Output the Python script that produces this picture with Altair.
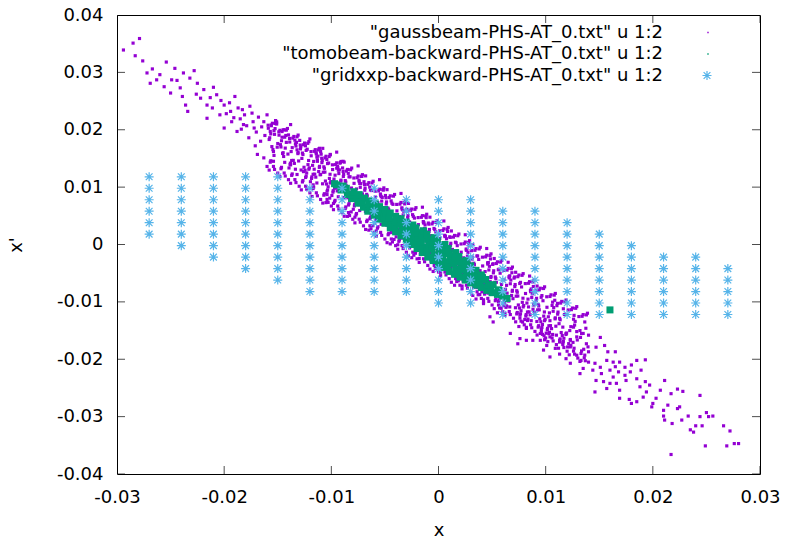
import altair as alt
import pandas as pd

# ---------------- axis ticks and legend text ----------------
x_ticks = [-0.03, -0.02, -0.01, 0.0, 0.01, 0.02, 0.03]
y_ticks = [-0.04, -0.03, -0.02, -0.01, 0.0, 0.01, 0.02, 0.03, 0.04]
series_names = [
    '"gaussbeam-PHS-AT_0.txt" u 1:2',
    '"tomobeam-backward-PHS-AT_0.txt" u 1:2',
    '"gridxxp-backward-PHS-AT_0.txt" u 1:2',
]
series_colors = ["#9400D3", "#009E73", "#56B4E9"]

# ---------------- gaussbeam cloud ----------------
gauss_upper_tail = [
    (-0.0294, 0.0339), (-0.0285, 0.0351), (-0.0279, 0.0359), (-0.0283, 0.0329), (-0.0276, 0.0320),
    (-0.0272, 0.0299), (-0.0269, 0.0281), (-0.0267, 0.0306), (-0.0263, 0.0287), (-0.0254, 0.0318),
    (-0.0246, 0.0307), (-0.0256, 0.0275), (-0.0250, 0.0264), (-0.0249, 0.0287), (-0.0238, 0.0299),
    (-0.0228, 0.0303), (-0.0234, 0.0232), (-0.0236, 0.0243), (-0.0241, 0.0273), (-0.0225, 0.0281),
    (-0.0232, 0.0290), (-0.0219, 0.0270), (-0.0210, 0.0274), (-0.0222, 0.0255), (-0.0216, 0.0243),
    (-0.0207, 0.0261), (-0.0190, 0.0258), (-0.0200, 0.0243), (-0.0204, 0.0226), (-0.0216, 0.0220),
    (-0.0194, 0.0232), (-0.0183, 0.0235), (-0.0174, 0.0229), (-0.0193, 0.0214), (-0.0182, 0.0209),
    (-0.0172, 0.0203), (-0.0163, 0.0214), (-0.0151, 0.0210), (-0.0188, 0.0197), (-0.0200, 0.0203),
    (-0.0177, 0.0186), (-0.0166, 0.0180), (-0.0157, 0.0197), (-0.0144, 0.0200), (-0.0138, 0.0209),
    (-0.0120, 0.0184), (-0.0132, 0.0165), (-0.0143, 0.0168), (-0.0154, 0.0162), (-0.0163, 0.0151),
    (-0.0169, 0.0157), (-0.0110, 0.0162), (-0.0101, 0.0157), (-0.0113, 0.0145), (-0.0138, 0.0139),
    (-0.0154, 0.0145), (-0.0126, 0.0127), (-0.0110, 0.0122), (-0.0098, 0.0110), (-0.0132, 0.0122),
    (-0.0117, 0.0104), (-0.0104, 0.0087), (-0.0095, 0.0133), (-0.0089, 0.0145),
    (-0.0198, 0.0228), (-0.0195, 0.0247), (-0.0191, 0.0221), (-0.0187, 0.0238), (-0.0185, 0.0219),
    (-0.0181, 0.0226), (-0.0179, 0.0207), (-0.0176, 0.0241), (-0.0173, 0.0214), (-0.0170, 0.0196),
    (-0.0168, 0.0222), (-0.0165, 0.0205), (-0.0162, 0.0190), (-0.0160, 0.0226), (-0.0158, 0.0183),
    (-0.0156, 0.0207), (-0.0153, 0.0192), (-0.0150, 0.0176), (-0.0148, 0.0199), (-0.0146, 0.0187),
    (-0.0145, 0.0160), (-0.0142, 0.0178), (-0.0140, 0.0191), (-0.0147, 0.0170), (-0.0152, 0.0216),
    (-0.0171, 0.0172), (-0.0184, 0.0201), (-0.0203, 0.0251), (-0.0211, 0.0238), (-0.0226, 0.0262),
    (-0.0239, 0.0258), (-0.0244, 0.0286), (-0.0260, 0.0296), (-0.0213, 0.0256),
]

gauss_core = [
    (-0.01395, 0.01334), (-0.0134, 0.01818), (-0.0137, 0.01464), (-0.0131, 0.01602), (-0.01385, 0.01392), (-0.0133, 0.01716),
    (-0.01295, 0.01814), (-0.0124, 0.01168), (-0.0127, 0.01594), (-0.0121, 0.01312), (-0.01285, 0.01702), (-0.0123, 0.01246),
    (-0.01195, 0.01094), (-0.0114, 0.01578), (-0.0117, 0.01224), (-0.0111, 0.01362), (-0.01185, 0.01152), (-0.0113, 0.01476),
    (-0.0116, 0.01312), (-0.01115, 0.01668),
    (-0.01095, 0.01574), (-0.0104, 0.00928), (-0.0107, 0.01354), (-0.0101, 0.01072), (-0.01085, 0.01462), (-0.0103, 0.01006),
    (-0.0106, 0.01262), (-0.01015, 0.00808), (-0.0108, 0.01676), (-0.0105, 0.0073),
    (-0.00995, 0.00854), (-0.0094, 0.01338), (-0.0097, 0.00984), (-0.0091, 0.01122), (-0.00985, 0.00912), (-0.0093, 0.01236),
    (-0.0096, 0.01072), (-0.00915, 0.01428), (-0.0098, 0.00716), (-0.0095, 0.0161),
    (-0.00895, 0.01334), (-0.0084, 0.00688), (-0.0087, 0.01114), (-0.0081, 0.00832), (-0.00885, 0.01222), (-0.0083, 0.00766),
    (-0.0086, 0.01022), (-0.00815, 0.00568), (-0.0088, 0.01436), (-0.0085, 0.0049),
    (-0.00795, 0.00614), (-0.0074, 0.01098), (-0.0077, 0.00744), (-0.0071, 0.00882), (-0.00785, 0.00672), (-0.0073, 0.00996),
    (-0.0076, 0.00832), (-0.00715, 0.01188), (-0.0078, 0.00476), (-0.0075, 0.0137),
    (-0.00695, 0.01094), (-0.0064, 0.00448), (-0.0067, 0.00874), (-0.0061, 0.00592), (-0.00685, 0.00982), (-0.0063, 0.00526),
    (-0.0066, 0.00782), (-0.00615, 0.00328), (-0.0068, 0.01196), (-0.0065, 0.0025),
    (-0.00595, 0.00374), (-0.0054, 0.00858), (-0.0057, 0.00504), (-0.0051, 0.00642), (-0.00585, 0.00432), (-0.0053, 0.00756),
    (-0.0056, 0.00592), (-0.00515, 0.00948), (-0.0058, 0.00236), (-0.0055, 0.0113),
    (-0.00495, 0.00854), (-0.0044, 0.00208), (-0.0047, 0.00634), (-0.0041, 0.00352), (-0.00485, 0.00742), (-0.0043, 0.00286),
    (-0.0046, 0.00542), (-0.00415, 0.00088), (-0.0048, 0.00956), (-0.0045, 0.0001),
    (-0.00395, 0.00134), (-0.0034, 0.00618), (-0.0037, 0.00264), (-0.0031, 0.00402), (-0.00385, 0.00192), (-0.0033, 0.00516),
    (-0.0036, 0.00352), (-0.00315, 0.00708), (-0.0038, -0.00004), (-0.0035, 0.0089),
    (-0.00295, 0.00614), (-0.0024, -0.00032), (-0.0027, 0.00394), (-0.0021, 0.00112), (-0.00285, 0.00502), (-0.0023, 0.00046),
    (-0.0026, 0.00302), (-0.00215, -0.00152), (-0.0028, 0.00716), (-0.0025, -0.0023),
    (-0.00195, -0.00106), (-0.0014, 0.00378), (-0.0017, 0.00024), (-0.0011, 0.00162), (-0.00185, -0.00048), (-0.0013, 0.00276),
    (-0.0016, 0.00112), (-0.00115, 0.00468), (-0.0018, -0.00244), (-0.0015, 0.0065),
    (-0.00095, 0.00374), (-0.0004, -0.00272), (-0.0007, 0.00154), (-0.0001, -0.00128), (-0.00085, 0.00262), (-0.0003, -0.00194),
    (-0.0006, 0.00062), (-0.00015, -0.00392), (-0.0008, 0.00476), (-0.0005, -0.0047),
    (0.00005, -0.00346), (0.0006, 0.00138), (0.0003, -0.00216), (0.0009, -0.00078), (0.00015, -0.00288), (0.0007, 0.00036),
    (0.0004, -0.00128), (0.00085, 0.00228), (0.0002, -0.00484), (0.0005, 0.0041),
    (0.00105, 0.00134), (0.0016, -0.00512), (0.0013, -0.00086), (0.0019, -0.00368), (0.00115, 0.00022), (0.0017, -0.00434),
    (0.0014, -0.00178), (0.00185, -0.00632), (0.0012, 0.00236), (0.0015, -0.0071),
    (0.00205, -0.00586), (0.0026, -0.00102), (0.0023, -0.00456), (0.0029, -0.00318), (0.00215, -0.00528), (0.0027, -0.00204),
    (0.0024, -0.00368), (0.00285, -0.00012), (0.0022, -0.00724), (0.0025, 0.0017),
    (0.00305, -0.00106), (0.0036, -0.00752), (0.0033, -0.00326), (0.0039, -0.00608), (0.00315, -0.00218), (0.0037, -0.00674),
    (0.0034, -0.00418), (0.00385, -0.00872), (0.0032, -0.00004), (0.0035, -0.0095),
    (0.00405, -0.00826), (0.0046, -0.00342), (0.0043, -0.00696), (0.0049, -0.00558), (0.00415, -0.00768), (0.0047, -0.00444),
    (0.0044, -0.00608), (0.00485, -0.00252), (0.0042, -0.00964), (0.0045, -0.0007),
    (0.00505, -0.00346), (0.0056, -0.00992), (0.0053, -0.00566), (0.0059, -0.00848), (0.00515, -0.00458), (0.0057, -0.00914),
    (0.0054, -0.00658), (0.00585, -0.01112), (0.0052, -0.00244), (0.0055, -0.0119),
    (0.00605, -0.01066), (0.0066, -0.00582), (0.0063, -0.00936), (0.0069, -0.00798), (0.00615, -0.01008), (0.0067, -0.00684),
    (0.0064, -0.00848), (0.00685, -0.00492), (0.0062, -0.01204), (0.0065, -0.0031),
    (0.00705, -0.00586), (0.0076, -0.01232), (0.0073, -0.00806), (0.0079, -0.01088), (0.00715, -0.00698), (0.0077, -0.01154),
    (0.0074, -0.00898), (0.00785, -0.01352), (0.0072, -0.00484), (0.0075, -0.0143),
    (0.00805, -0.01306), (0.0086, -0.00822), (0.0083, -0.01176), (0.0089, -0.01038), (0.00815, -0.01248), (0.0087, -0.00924),
    (0.0084, -0.01088), (0.00885, -0.00732), (0.0082, -0.01444), (0.0085, -0.0055),
    (0.00905, -0.00826), (0.0096, -0.01472), (0.0093, -0.01046), (0.0099, -0.01328), (0.00915, -0.00938), (0.0097, -0.01394),
    (0.0094, -0.01138), (0.00985, -0.01592), (0.0092, -0.00724), (0.0095, -0.0167),
    (0.01005, -0.01546), (0.0106, -0.01062), (0.0103, -0.01416), (0.0109, -0.01278), (0.01015, -0.01488), (0.0107, -0.01164),
    (0.0104, -0.01328), (0.01085, -0.00972),
    (0.01105, -0.01066), (0.0116, -0.01712), (0.0113, -0.01286), (0.0119, -0.01568), (0.01115, -0.01178), (0.0117, -0.01634),
    (0.01205, -0.01786), (0.0126, -0.01302), (0.0123, -0.01656), (0.0129, -0.01518), (0.01215, -0.01728), (0.0127, -0.01404),
]

gauss_dense_band = [
    (-0.01575, 0.0186), (-0.01545, 0.01654), (-0.01525, 0.0202), (-0.01505, 0.01696), (-0.01565, 0.01928), (-0.01535, 0.01552),
    (-0.01588, 0.02026), (-0.01555, 0.01706),
    (-0.01475, 0.0174), (-0.01445, 0.01534), (-0.01425, 0.019), (-0.01405, 0.01576), (-0.01465, 0.01808), (-0.01435, 0.01432),
    (-0.01488, 0.01906), (-0.01455, 0.01586),
    (-0.01375, 0.0162), (-0.01345, 0.01414), (-0.01325, 0.0178), (-0.01305, 0.01456), (-0.01365, 0.01688), (-0.01335, 0.01312),
    (-0.01388, 0.01786), (-0.01355, 0.01466), (-0.01312, 0.01584), (-0.01382, 0.01418),
    (-0.01275, 0.015), (-0.01245, 0.01294), (-0.01225, 0.0166), (-0.01205, 0.01336), (-0.01265, 0.01568), (-0.01235, 0.01192),
    (-0.01288, 0.01666), (-0.01255, 0.01346), (-0.01212, 0.01464), (-0.01282, 0.01298), (-0.01242, 0.0172), (-0.01218, 0.01392),
    (-0.01175, 0.0138), (-0.01145, 0.01174), (-0.01125, 0.0154), (-0.01105, 0.01216), (-0.01165, 0.01448), (-0.01135, 0.01072),
    (-0.01188, 0.01546), (-0.01155, 0.01226), (-0.01112, 0.01344), (-0.01182, 0.01178), (-0.01142, 0.016), (-0.01118, 0.01272),
    (-0.01075, 0.0126), (-0.01045, 0.01054), (-0.01025, 0.0142), (-0.01005, 0.01096), (-0.01065, 0.01328), (-0.01035, 0.00952),
    (-0.01088, 0.01426), (-0.01055, 0.01106), (-0.01012, 0.01224), (-0.01082, 0.01058), (-0.01042, 0.0148), (-0.01018, 0.01152),
    (-0.00975, 0.0114), (-0.00945, 0.00934), (-0.00925, 0.013), (-0.00905, 0.00976), (-0.00965, 0.01208), (-0.00935, 0.00832),
    (-0.00988, 0.01306), (-0.00955, 0.00986), (-0.00912, 0.01104), (-0.00982, 0.00938), (-0.00942, 0.0136), (-0.00918, 0.01032),
    (-0.00875, 0.0102), (-0.00845, 0.00814), (-0.00825, 0.0118), (-0.00805, 0.00856), (-0.00865, 0.01088), (-0.00835, 0.00712),
    (-0.00888, 0.01186), (-0.00855, 0.00866), (-0.00812, 0.00984), (-0.00882, 0.00818), (-0.00842, 0.0124), (-0.00818, 0.00912),
    (-0.00775, 0.009), (-0.00745, 0.00694), (-0.00725, 0.0106), (-0.00705, 0.00736), (-0.00765, 0.00968), (-0.00735, 0.00592),
    (-0.00788, 0.01066), (-0.00755, 0.00746), (-0.00712, 0.00864), (-0.00782, 0.00698), (-0.00742, 0.0112), (-0.00718, 0.00792),
    (-0.00675, 0.0078), (-0.00645, 0.00574), (-0.00625, 0.0094), (-0.00605, 0.00616), (-0.00665, 0.00848), (-0.00635, 0.00472),
    (-0.00688, 0.00946), (-0.00655, 0.00626), (-0.00612, 0.00744), (-0.00682, 0.00578), (-0.00642, 0.01), (-0.00618, 0.00672),
    (-0.00575, 0.0066), (-0.00545, 0.00454), (-0.00525, 0.0082), (-0.00505, 0.00496), (-0.00565, 0.00728), (-0.00535, 0.00352),
    (-0.00588, 0.00826), (-0.00555, 0.00506), (-0.00512, 0.00624), (-0.00582, 0.00458), (-0.00542, 0.0088), (-0.00518, 0.00552),
    (-0.00475, 0.0054), (-0.00445, 0.00334), (-0.00425, 0.007), (-0.00405, 0.00376), (-0.00465, 0.00608), (-0.00435, 0.00232),
    (-0.00488, 0.00706), (-0.00455, 0.00386), (-0.00412, 0.00504), (-0.00482, 0.00338), (-0.00442, 0.0076), (-0.00418, 0.00432),
    (-0.00375, 0.0042), (-0.00345, 0.00214), (-0.00325, 0.0058), (-0.00305, 0.00256), (-0.00365, 0.00488), (-0.00335, 0.00112),
    (-0.00388, 0.00586), (-0.00355, 0.00266), (-0.00312, 0.00384), (-0.00382, 0.00218), (-0.00342, 0.0064), (-0.00318, 0.00312),
    (-0.00275, 0.003), (-0.00245, 0.00094), (-0.00225, 0.0046), (-0.00205, 0.00136), (-0.00265, 0.00368), (-0.00235, -0.00008),
    (-0.00288, 0.00466), (-0.00255, 0.00146), (-0.00212, 0.00264), (-0.00282, 0.00098), (-0.00242, 0.0052), (-0.00218, 0.00192),
    (-0.00175, 0.0018), (-0.00145, -0.00026), (-0.00125, 0.0034), (-0.00105, 0.00016), (-0.00165, 0.00248), (-0.00135, -0.00128),
    (-0.00188, 0.00346), (-0.00155, 0.00026), (-0.00112, 0.00144), (-0.00182, -0.00022), (-0.00142, 0.004), (-0.00118, 0.00072),
    (-0.00075, 0.0006), (-0.00045, -0.00146), (-0.00025, 0.0022), (-0.00005, -0.00104), (-0.00065, 0.00128), (-0.00035, -0.00248),
    (-0.00088, 0.00226), (-0.00055, -0.00094), (-0.00012, 0.00024), (-0.00082, -0.00142), (-0.00042, 0.0028), (-0.00018, -0.00048),
    (0.00025, -0.0006), (0.00055, -0.00266), (0.00075, 0.001), (0.00095, -0.00224), (0.00035, 0.00008), (0.00065, -0.00368),
    (0.00012, 0.00106), (0.00045, -0.00214), (0.00088, -0.00096), (0.00018, -0.00262), (0.00058, 0.0016), (0.00082, -0.00168),
    (0.00125, -0.0018), (0.00155, -0.00386), (0.00175, -0.0002), (0.00195, -0.00344), (0.00135, -0.00112), (0.00165, -0.00488),
    (0.00112, -0.00014), (0.00145, -0.00334), (0.00188, -0.00216), (0.00118, -0.00382), (0.00158, 0.0004), (0.00182, -0.00288),
    (0.00225, -0.003), (0.00255, -0.00506), (0.00275, -0.0014), (0.00295, -0.00464), (0.00235, -0.00232), (0.00265, -0.00608),
    (0.00212, -0.00134), (0.00245, -0.00454), (0.00288, -0.00336), (0.00218, -0.00502), (0.00258, -0.0008), (0.00282, -0.00408),
    (0.00325, -0.0042), (0.00355, -0.00626), (0.00375, -0.0026), (0.00395, -0.00584), (0.00335, -0.00352), (0.00365, -0.00728),
    (0.00312, -0.00254), (0.00345, -0.00574), (0.00388, -0.00456), (0.00318, -0.00622), (0.00358, -0.002), (0.00382, -0.00528),
    (0.00425, -0.0054), (0.00455, -0.00746), (0.00475, -0.0038), (0.00495, -0.00704), (0.00435, -0.00472), (0.00465, -0.00848),
    (0.00412, -0.00374), (0.00445, -0.00694), (0.00488, -0.00576), (0.00418, -0.00742), (0.00458, -0.0032), (0.00482, -0.00648),
    (0.00525, -0.0066), (0.00555, -0.00866), (0.00575, -0.005), (0.00595, -0.00824), (0.00535, -0.00592), (0.00565, -0.00968),
    (0.00512, -0.00494), (0.00545, -0.00814), (0.00588, -0.00696), (0.00518, -0.00862), (0.00558, -0.0044), (0.00582, -0.00768),
    (0.00625, -0.0078), (0.00655, -0.00986), (0.00675, -0.0062), (0.00695, -0.00944), (0.00635, -0.00712), (0.00665, -0.01088),
    (0.00612, -0.00614), (0.00645, -0.00934), (0.00688, -0.00816), (0.00618, -0.00982), (0.00658, -0.0056), (0.00682, -0.00888),
    (0.00725, -0.009), (0.00755, -0.01106), (0.00775, -0.0074), (0.00795, -0.01064), (0.00735, -0.00832), (0.00765, -0.01208),
    (0.00712, -0.00734), (0.00745, -0.01054), (0.00788, -0.00936), (0.00718, -0.01102), (0.00758, -0.0068), (0.00782, -0.01008),
    (0.00825, -0.0102), (0.00855, -0.01226), (0.00875, -0.0086), (0.00895, -0.01184), (0.00835, -0.00952), (0.00865, -0.01328),
    (0.00812, -0.00854), (0.00845, -0.01174), (0.00888, -0.01056), (0.00818, -0.01222), (0.00858, -0.008), (0.00882, -0.01128),
    (0.00925, -0.0114), (0.00955, -0.01346), (0.00975, -0.0098), (0.00995, -0.01304), (0.00935, -0.01072), (0.00965, -0.01448),
    (0.00912, -0.00974), (0.00945, -0.01294), (0.00988, -0.01176), (0.00918, -0.01342), (0.00958, -0.0092), (0.00982, -0.01248),
    (0.01025, -0.0126), (0.01055, -0.01466), (0.01075, -0.011), (0.01095, -0.01424), (0.01035, -0.01192), (0.01065, -0.01568),
    (0.01012, -0.01094), (0.01045, -0.01414), (0.01088, -0.01296), (0.01018, -0.01462),
    (0.01125, -0.0138), (0.01155, -0.01586), (0.01175, -0.0122), (0.01195, -0.01544), (0.01135, -0.01312), (0.01165, -0.01688),
    (0.01112, -0.01214), (0.01145, -0.01534),
    (0.01225, -0.015), (0.01255, -0.01706), (0.01275, -0.0134), (0.01295, -0.01664), (0.01235, -0.01432), (0.01265, -0.01808),
    (0.01325, -0.0162), (0.01355, -0.01826), (0.01375, -0.0146), (0.01395, -0.01784), (0.01335, -0.01552), (0.01365, -0.01928),
]

gauss_halo = [
    (-0.0159, 0.02079), (-0.0157, 0.01435), (-0.0155, 0.02113), (-0.0153, 0.01309), (-0.0151, 0.02137), (-0.0158, 0.01297),
    (-0.0156, 0.02084), (-0.0154, 0.01361), (-0.0152, 0.02108), (-0.016, 0.0136), (-0.01535, 0.01985), (-0.01565, 0.0146),
    (-0.0149, 0.01964), (-0.0147, 0.0132), (-0.0145, 0.01998), (-0.0143, 0.01194), (-0.0141, 0.02022), (-0.0148, 0.01182),
    (-0.0146, 0.01969), (-0.0144, 0.01246), (-0.0142, 0.01993), (-0.015, 0.01245), (-0.01435, 0.0187), (-0.01465, 0.01345),
    (-0.0139, 0.01849), (-0.0137, 0.01205), (-0.0135, 0.01883), (-0.0133, 0.01079), (-0.0131, 0.01907), (-0.0138, 0.01067),
    (-0.0136, 0.01854), (-0.0134, 0.01131), (-0.0132, 0.01878), (-0.014, 0.0113), (-0.01335, 0.01755), (-0.01365, 0.0123),
    (-0.0129, 0.01734), (-0.0127, 0.0109), (-0.0125, 0.01768), (-0.0123, 0.00964), (-0.0121, 0.01792), (-0.0128, 0.00952),
    (-0.0126, 0.01739), (-0.0124, 0.01016), (-0.0122, 0.01763), (-0.013, 0.01015), (-0.01235, 0.0164), (-0.01265, 0.01115),
    (-0.0119, 0.01619), (-0.0117, 0.00975), (-0.0115, 0.01653), (-0.0113, 0.00849), (-0.0111, 0.01677), (-0.0118, 0.00837),
    (-0.0116, 0.01624), (-0.0114, 0.00901), (-0.0112, 0.01648), (-0.012, 0.009), (-0.01135, 0.01525), (-0.01165, 0.01),
    (-0.0109, 0.01504), (-0.0107, 0.0086), (-0.0105, 0.01538), (-0.0103, 0.00734), (-0.0101, 0.01562), (-0.0108, 0.00722),
    (-0.0106, 0.01509), (-0.0104, 0.00786), (-0.0102, 0.01533), (-0.011, 0.00785), (-0.01035, 0.0141), (-0.01065, 0.00885),
    (-0.0099, 0.01389), (-0.0097, 0.00745), (-0.0095, 0.01423), (-0.0093, 0.00619), (-0.0091, 0.01447), (-0.0098, 0.00607),
    (-0.0096, 0.01394), (-0.0094, 0.00671), (-0.0092, 0.01418), (-0.01, 0.0067), (-0.00935, 0.01295), (-0.00965, 0.0077),
    (-0.0089, 0.01274), (-0.0087, 0.0063), (-0.0085, 0.01308), (-0.0083, 0.00504), (-0.0081, 0.01332), (-0.0088, 0.00492),
    (-0.0086, 0.01279), (-0.0084, 0.00556), (-0.0082, 0.01303), (-0.009, 0.00555), (-0.00835, 0.0118), (-0.00865, 0.00655),
    (-0.0079, 0.01159), (-0.0077, 0.00515), (-0.0075, 0.01193), (-0.0073, 0.00389), (-0.0071, 0.01217), (-0.0078, 0.00377),
    (-0.0076, 0.01164), (-0.0074, 0.00441), (-0.0072, 0.01188), (-0.008, 0.0044), (-0.00735, 0.01065), (-0.00765, 0.0054),
    (-0.0069, 0.01044), (-0.0067, 0.004), (-0.0065, 0.01078), (-0.0063, 0.00274), (-0.0061, 0.01102), (-0.0068, 0.00262),
    (-0.0066, 0.01049), (-0.0064, 0.00326), (-0.0062, 0.01073), (-0.007, 0.00325), (-0.00635, 0.0095), (-0.00665, 0.00425),
    (-0.0059, 0.00929), (-0.0057, 0.00285), (-0.0055, 0.00963), (-0.0053, 0.00159), (-0.0051, 0.00987), (-0.0058, 0.00147),
    (-0.0056, 0.00934), (-0.0054, 0.00211), (-0.0052, 0.00958), (-0.006, 0.0021), (-0.00535, 0.00835), (-0.00565, 0.0031),
    (-0.0049, 0.00814), (-0.0047, 0.0017), (-0.0045, 0.00848), (-0.0043, 0.00044), (-0.0041, 0.00872), (-0.0048, 0.00032),
    (-0.0046, 0.00819), (-0.0044, 0.00096), (-0.0042, 0.00843), (-0.005, 0.00095), (-0.00435, 0.0072), (-0.00465, 0.00195),
    (-0.0039, 0.00699), (-0.0037, 0.00055), (-0.0035, 0.00733), (-0.0033, -0.00071), (-0.0031, 0.00757), (-0.0038, -0.00083),
    (-0.0036, 0.00704), (-0.0034, -0.00019), (-0.0032, 0.00728), (-0.004, -0.0002), (-0.00335, 0.00605), (-0.00365, 0.0008),
    (-0.0029, 0.00584), (-0.0027, -0.0006), (-0.0025, 0.00618), (-0.0023, -0.00186), (-0.0021, 0.00642), (-0.0028, -0.00198),
    (-0.0026, 0.00589), (-0.0024, -0.00134), (-0.0022, 0.00613), (-0.003, -0.00135), (-0.00235, 0.0049), (-0.00265, -0.00035),
    (-0.0019, 0.00469), (-0.0017, -0.00175), (-0.0015, 0.00503), (-0.0013, -0.00301), (-0.0011, 0.00527), (-0.0018, -0.00313),
    (-0.0016, 0.00474), (-0.0014, -0.00249), (-0.0012, 0.00498), (-0.002, -0.0025), (-0.00135, 0.00375), (-0.00165, -0.0015),
    (-0.0009, 0.00354), (-0.0007, -0.0029), (-0.0005, 0.00388), (-0.0003, -0.00416), (-0.0001, 0.00412), (-0.0008, -0.00428),
    (-0.0006, 0.00359), (-0.0004, -0.00364), (-0.0002, 0.00383), (-0.001, -0.00365), (-0.00035, 0.0026), (-0.00065, -0.00265),
    (0.0001, 0.00239), (0.0003, -0.00405), (0.0005, 0.00273), (0.0007, -0.00531), (0.0009, 0.00297), (0.0002, -0.00543),
    (0.0004, 0.00244), (0.0006, -0.00479), (0.0008, 0.00268), (0.0, -0.0048), (0.00065, 0.00145), (0.00035, -0.0038),
    (0.0011, 0.00124), (0.0013, -0.0052), (0.0015, 0.00158), (0.0017, -0.00646), (0.0019, 0.00182), (0.0012, -0.00658),
    (0.0014, 0.00129), (0.0016, -0.00594), (0.0018, 0.00153), (0.001, -0.00595), (0.00165, 0.0003), (0.00135, -0.00495),
    (0.0021, 0.00009), (0.0023, -0.00635), (0.0025, 0.00043), (0.0027, -0.00761), (0.0029, 0.00067), (0.0022, -0.00773),
    (0.0024, 0.00014), (0.0026, -0.00709), (0.0028, 0.00038), (0.002, -0.0071), (0.00265, -0.00085), (0.00235, -0.0061),
    (0.0031, -0.00106), (0.0033, -0.0075), (0.0035, -0.00072), (0.0037, -0.00876), (0.0039, -0.00048), (0.0032, -0.00888),
    (0.0034, -0.00101), (0.0036, -0.00824), (0.0038, -0.00077), (0.003, -0.00825), (0.00365, -0.002), (0.00335, -0.00725),
    (0.0041, -0.00221), (0.0043, -0.00865), (0.0045, -0.00187), (0.0047, -0.00991), (0.0049, -0.00163), (0.0042, -0.01003),
    (0.0044, -0.00216), (0.0046, -0.00939), (0.0048, -0.00192), (0.004, -0.0094), (0.00465, -0.00315), (0.00435, -0.0084),
    (0.0051, -0.00336), (0.0053, -0.0098), (0.0055, -0.00302), (0.0057, -0.01106), (0.0059, -0.00278), (0.0052, -0.01118),
    (0.0054, -0.00331), (0.0056, -0.01054), (0.0058, -0.00307), (0.005, -0.01055), (0.00565, -0.0043), (0.00535, -0.00955),
    (0.0061, -0.00451), (0.0063, -0.01095), (0.0065, -0.00417), (0.0067, -0.01221), (0.0069, -0.00393), (0.0062, -0.01233),
    (0.0064, -0.00446), (0.0066, -0.01169), (0.0068, -0.00422), (0.006, -0.0117), (0.00665, -0.00545), (0.00635, -0.0107),
    (0.0071, -0.00566), (0.0073, -0.0121), (0.0075, -0.00532), (0.0077, -0.01336), (0.0079, -0.00508), (0.0072, -0.01348),
    (0.0074, -0.00561), (0.0076, -0.01284), (0.0078, -0.00537), (0.007, -0.01285), (0.00765, -0.0066), (0.00735, -0.01185),
    (0.0081, -0.00681), (0.0083, -0.01325), (0.0085, -0.00647), (0.0087, -0.01451), (0.0089, -0.00623), (0.0082, -0.01463),
    (0.0084, -0.00676), (0.0086, -0.01399), (0.0088, -0.00652), (0.008, -0.014), (0.00865, -0.00775), (0.00835, -0.013),
    (0.0091, -0.00796), (0.0093, -0.0144), (0.0095, -0.00762), (0.0097, -0.01566), (0.0099, -0.00738), (0.0092, -0.01578),
    (0.0094, -0.00791), (0.0096, -0.01514), (0.0098, -0.00767), (0.009, -0.01515), (0.00965, -0.0089), (0.00935, -0.01415),
    (0.0101, -0.00911), (0.0103, -0.01555), (0.0105, -0.00877), (0.0107, -0.01681), (0.0109, -0.00853), (0.0102, -0.01693),
    (0.0104, -0.00906), (0.0106, -0.01629), (0.0108, -0.00882), (0.01, -0.0163), (0.01065, -0.01005), (0.01035, -0.0153),
    (0.0111, -0.01026), (0.0113, -0.0167), (0.0115, -0.00992), (0.0117, -0.01796), (0.0119, -0.00968), (0.0112, -0.01808),
    (0.0114, -0.01021), (0.0116, -0.01744), (0.0118, -0.00997), (0.011, -0.01745), (0.01165, -0.0112), (0.01135, -0.01645),
    (0.0121, -0.01141), (0.0123, -0.01785), (0.0125, -0.01107), (0.0127, -0.01911), (0.0129, -0.01083), (0.0122, -0.01923),
    (0.0124, -0.01136), (0.0126, -0.01859), (0.0128, -0.01112), (0.012, -0.0186), (0.01265, -0.01235), (0.01235, -0.0176),
    (0.0131, -0.01256), (0.0133, -0.019), (0.0135, -0.01222), (0.0137, -0.02026), (0.0139, -0.01198), (0.0132, -0.02038),
    (0.0134, -0.01251), (0.0136, -0.01974), (0.0138, -0.01227), (0.013, -0.0198), (0.01365, -0.0135), (0.01335, -0.01855),
]

gauss_lower_tail = [
    (0.0217, -0.0366), (0.0249, -0.0351), (0.0269, -0.0351), (0.0276, -0.0347), (0.0280, -0.0347),
    (0.0272, -0.0325), (0.0266, -0.0316), (0.0256, -0.0299), (0.0252, -0.0300), (0.0250, -0.0293),
    (0.0246, -0.0316), (0.0244, -0.0300), (0.0240, -0.0316), (0.0238, -0.0327), (0.0235, -0.0323),
    (0.0233, -0.0299), (0.0227, -0.0306), (0.0218, -0.0312), (0.0211, -0.0306), (0.0210, -0.0299),
    (0.0225, -0.0283), (0.0223, -0.0286), (0.0244, -0.0263), (0.0228, -0.0256), (0.0223, -0.0252),
    (0.0217, -0.0260), (0.0214, -0.0280), (0.0211, -0.0237), (0.0207, -0.0254), (0.0203, -0.0268),
    (0.0200, -0.0277), (0.0210, -0.0289), (0.0197, -0.0245), (0.0194, -0.0257), (0.0191, -0.0266),
    (0.0199, -0.0283), (0.0185, -0.0274), (0.0180, -0.0277), (0.0178, -0.0270), (0.0188, -0.0248),
    (0.0193, -0.0239), (0.0185, -0.0234), (0.0189, -0.0219), (0.0193, -0.0201), (0.0185, -0.0202),
    (0.0179, -0.0222), (0.0175, -0.0237), (0.0169, -0.0254), (0.0169, -0.0268), (0.0166, -0.0242),
    (0.0174, -0.0228), (0.0180, -0.0210), (0.0174, -0.0214), (0.0168, -0.0222), (0.0163, -0.0231),
    (0.0160, -0.0242), (0.0157, -0.0251), (0.0154, -0.0239), (0.0147, -0.0237), (0.0152, -0.0225),
    (0.0146, -0.0257), (0.0160, -0.0219), (0.0165, -0.0213), (0.0169, -0.0205), (0.0163, -0.0205),
    (0.0157, -0.0202), (0.0151, -0.0214), (0.0144, -0.0219), (0.0146, -0.0207), (0.0140, -0.0205),
    (0.0135, -0.0216), (0.0132, -0.0225), (0.0158, -0.0187), (0.0165, -0.0187), (0.0155, -0.0176),
    (0.0151, -0.0162), (0.0147, -0.0179), (0.0140, -0.0187), (0.0138, -0.0173), (0.0133, -0.0202),
    (0.0129, -0.0193), (0.0123, -0.0207), (0.0119, -0.0199), (0.0113, -0.0191), (0.0109, -0.0181),
    (0.0104, -0.0196), (0.0098, -0.0184), (0.0101, -0.0176), (0.0099, -0.0166), (0.0113, -0.0170),
    (0.0123, -0.0167), (0.0129, -0.0161), (0.0135, -0.0155), (0.0140, -0.0158), (0.0132, -0.0150),
    (0.0126, -0.0144), (0.0119, -0.0155), (0.0116, -0.0144), (0.0110, -0.0158), (0.0104, -0.0161),
    (0.0095, -0.0155), (0.0088, -0.0167), (0.0082, -0.0167), (0.0076, -0.0164), (0.0074, -0.0173),
    (0.0067, -0.0155), (0.0051, -0.0135), (0.0048, -0.0126), (0.0042, -0.0103),
]

# ---------------- tomobeam cloud ----------------
tomo_points = [
    (-0.0095, 0.0104), (-0.0091, 0.0095), (-0.0089, 0.0102), (-0.0085, 0.0087), (-0.0086, 0.0098),
    (-0.0081, 0.0080), (-0.0080, 0.0086), (-0.0079, 0.0092), (-0.0075, 0.0072), (-0.0076, 0.0080),
    (-0.0074, 0.0087), (-0.0070, 0.0065), (-0.0071, 0.0074), (-0.0069, 0.0081), (-0.0066, 0.0058),
    (-0.0064, 0.0067), (-0.0065, 0.0076), (-0.0060, 0.0051), (-0.0061, 0.0061), (-0.0059, 0.0071),
    (-0.0055, 0.0044), (-0.0054, 0.0053), (-0.0056, 0.0061), (-0.0055, 0.0066),
    (-0.0050, 0.0037), (-0.0051, 0.0046), (-0.0049, 0.0054), (-0.0050, 0.0061),
    (-0.0045, 0.0029), (-0.0044, 0.0038), (-0.0046, 0.0046), (-0.0045, 0.0055),
    (-0.0040, 0.0022), (-0.0041, 0.0031), (-0.0039, 0.0040), (-0.0040, 0.0049),
    (-0.0035, 0.0015), (-0.0034, 0.0025), (-0.0036, 0.0035), (-0.0035, 0.0045),
    (-0.0030, 0.0008), (-0.0031, 0.0018), (-0.0029, 0.0028), (-0.0030, 0.0039),
    (-0.0025, 0.0000), (-0.0024, 0.0009), (-0.0026, 0.0018), (-0.0025, 0.0027), (-0.0024, 0.0034),
    (-0.0020, -0.0007), (-0.0021, 0.0002), (-0.0019, 0.0011), (-0.0020, 0.0020), (-0.0021, 0.0029),
    (-0.0015, -0.0014), (-0.0014, -0.0005), (-0.0016, 0.0005), (-0.0015, 0.0015), (-0.0014, 0.0024),
    (-0.0010, -0.0022), (-0.0011, -0.0012), (-0.0009, -0.0002), (-0.0010, 0.0009), (-0.0011, 0.0018),
    (-0.0005, -0.0028), (-0.0004, -0.0018), (-0.0006, -0.0008), (-0.0005, 0.0002), (-0.0004, 0.0012),
    (0.0000, -0.0034), (-0.0001, -0.0024), (0.0001, -0.0014), (0.0000, -0.0004), (-0.0001, 0.0006),
    (0.0005, -0.0040), (0.0006, -0.0030), (0.0004, -0.0020), (0.0005, -0.0010), (0.0006, 0.0000),
    (0.0010, -0.0047), (0.0009, -0.0037), (0.0011, -0.0027), (0.0010, -0.0016), (0.0009, -0.0007),
    (0.0015, -0.0052), (0.0016, -0.0043), (0.0014, -0.0033), (0.0015, -0.0023), (0.0016, -0.0014),
    (0.0020, -0.0057), (0.0019, -0.0048), (0.0021, -0.0039), (0.0020, -0.0030), (0.0019, -0.0021),
    (0.0025, -0.0062), (0.0026, -0.0053), (0.0024, -0.0044), (0.0025, -0.0035), (0.0026, -0.0028),
    (0.0030, -0.0067), (0.0029, -0.0057), (0.0031, -0.0047), (0.0030, -0.0037),
    (0.0035, -0.0071), (0.0036, -0.0062), (0.0034, -0.0054), (0.0035, -0.0045),
    (0.0040, -0.0075), (0.0039, -0.0066), (0.0041, -0.0058), (0.0040, -0.0053),
    (0.0045, -0.0080), (0.0046, -0.0070), (0.0044, -0.0061),
    (0.0050, -0.0084), (0.0049, -0.0077), (0.0051, -0.0070),
    (0.0055, -0.0087), (0.0056, -0.0079), (0.0060, -0.0090),
    (0.0064, -0.0094), (-0.0097, 0.0106), (0.0160, -0.0114),
]

# ---------------- gridxxp points (one list of x' values per x column) ----------------
grid_columns_x = [-0.027, -0.024, -0.021, -0.018, -0.015, -0.012, -0.009, -0.006, -0.003, 0.0,
                  0.003, 0.006, 0.009, 0.012, 0.015, 0.018, 0.021, 0.024, 0.027]
grid_columns_y = [
    [0.0118, 0.0098, 0.0078, 0.0058, 0.0038, 0.0018],
    [0.0118, 0.0098, 0.0078, 0.0058, 0.0038, 0.0018, -0.0002],
    [0.0118, 0.0098, 0.0078, 0.0058, 0.0038, 0.0018, -0.0002, -0.0022],
    [0.0118, 0.0098, 0.0078, 0.0058, 0.0038, 0.0018, -0.0002, -0.0022, -0.0042],
    [0.0118, 0.0098, 0.0078, 0.0058, 0.0038, 0.0018, -0.0002, -0.0022, -0.0042, -0.0062],
    [0.0098, 0.0078, 0.0058, 0.0038, 0.0018, -0.0002, -0.0022, -0.0042, -0.0062, -0.0082],
    [0.0098, 0.0078, 0.0058, 0.0038, 0.0018, -0.0002, -0.0022, -0.0042, -0.0062, -0.0082],
    [0.0098, 0.0078, 0.0058, 0.0038, 0.0018, -0.0002, -0.0022, -0.0042, -0.0062, -0.0082],
    [0.0078, 0.0058, 0.0038, 0.0018, -0.0002, -0.0022, -0.0042, -0.0062, -0.0082],
    [0.0078, 0.0058, 0.0038, 0.0018, -0.0002, -0.0022, -0.0042, -0.0062, -0.0082, -0.0102],
    [0.0078, 0.0058, 0.0038, 0.0018, -0.0002, -0.0022, -0.0042, -0.0062, -0.0082, -0.0102],
    [0.0058, 0.0038, 0.0018, -0.0002, -0.0022, -0.0042, -0.0062, -0.0082, -0.0102, -0.0122],
    [0.0058, 0.0038, 0.0018, -0.0002, -0.0022, -0.0042, -0.0062, -0.0082, -0.0102, -0.0122],
    [0.0038, 0.0018, -0.0002, -0.0022, -0.0042, -0.0062, -0.0082, -0.0102, -0.0122],
    [0.0018, -0.0002, -0.0022, -0.0042, -0.0062, -0.0082, -0.0102, -0.0122],
    [-0.0002, -0.0022, -0.0042, -0.0062, -0.0082, -0.0102, -0.0122],
    [-0.0022, -0.0042, -0.0062, -0.0082, -0.0102, -0.0122],
    [-0.0022, -0.0042, -0.0062, -0.0082, -0.0102, -0.0122],
    [-0.0042, -0.0062, -0.0082, -0.0102, -0.0122],
]

# ---------------- tables ----------------
gauss_df = pd.DataFrame(gauss_upper_tail + gauss_core + gauss_dense_band + gauss_halo + gauss_lower_tail,
                        columns=["x", "y"])
tomo_df = pd.DataFrame(tomo_points, columns=["x", "y"])
grid_df = pd.DataFrame(
    [(gx, gy) for gx, col in zip(grid_columns_x, grid_columns_y) for gy in col], columns=["x", "y"]
)
x_lo, x_hi = x_ticks[0], x_ticks[-1]
y_lo, y_hi = y_ticks[0], y_ticks[-1]
bottom_ticks = pd.DataFrame({"x": x_ticks, "y": [y_lo] * len(x_ticks)})
top_ticks = pd.DataFrame({"x": x_ticks, "y": [y_hi] * len(x_ticks)})
left_ticks = pd.DataFrame({"x": [x_lo] * len(y_ticks), "y": y_ticks})
right_ticks = pd.DataFrame({"x": [x_hi] * len(y_ticks), "y": y_ticks})

FONT = "DejaVu Sans"
label_expr = "replace(format(datum.value, '.2~f'), '\u2212', '-')"

xs = alt.Scale(domain=[x_lo, x_hi], nice=False, zero=False)
ys = alt.Scale(domain=[y_lo, y_hi], nice=False, zero=False)
x_axis = alt.Axis(values=x_ticks, labelExpr=label_expr, title="x", ticks=False, tickSize=0,
                  domain=False, grid=False, labelPadding=23, labelBaseline="middle",
                  labelFlush=False, labelOverlap=False, titleY=56, titleBaseline="middle")
y_axis = alt.Axis(values=y_ticks, labelExpr=label_expr, title="x'", ticks=False, tickSize=0,
                  domain=False, grid=False, labelPadding=14, labelFlush=False, labelOverlap=False,
                  titleX=-101, titleY=229.5, titleAngle=270, titleBaseline="middle")

X = alt.X("x:Q", scale=xs, axis=x_axis)
Y = alt.Y("y:Q", scale=ys, axis=y_axis)

asterisk = "M-1,0L1,0M0,-1L0,1M-0.75,-0.75L0.75,0.75M-0.75,0.75L0.75,-0.75"

gauss_layer = alt.Chart(gauss_df).mark_square(size=10, color=series_colors[0], opacity=1, clip=True).encode(x=X, y=Y)
tomo_layer = alt.Chart(tomo_df).mark_square(size=49, color=series_colors[1], opacity=1, clip=True).encode(x=X, y=Y)
grid_layer = alt.Chart(grid_df).mark_point(shape=asterisk, size=81, filled=False, strokeWidth=1.2,
                                           color=series_colors[2], opacity=1, clip=True).encode(x=X, y=Y)

def ticks(df, orient):
    return alt.Chart(df).mark_tick(orient=orient, size=16, thickness=1, color="#000", clip=True).encode(x=X, y=Y)

tick_layers = [ticks(bottom_ticks, "vertical"), ticks(top_ticks, "vertical"),
               ticks(left_ticks, "horizontal"), ticks(right_ticks, "horizontal")]

# ---------------- key (gnuplot style: text right-aligned, sample on the right) ----------------
key_df = pd.DataFrame({"label": series_names})
key_rows_y = [17.5, 39, 60.5]
key_layers = []
for i, name in enumerate(series_names):
    key_layers.append(
        alt.Chart(key_df).transform_filter(alt.datum.label == name)
        .mark_text(align="right", baseline="middle", font=FONT, fontSize=18, color="#000")
        .encode(text="label:N", x=alt.value(546), y=alt.value(key_rows_y[i]))
    )
key_layers.append(alt.Chart(key_df).transform_filter(alt.datum.label == series_names[0])
                  .mark_square(size=2, color=series_colors[0], opacity=1)
                  .encode(x=alt.value(591), y=alt.value(key_rows_y[0])))
key_layers.append(alt.Chart(key_df).transform_filter(alt.datum.label == series_names[1])
                  .mark_square(size=2, color=series_colors[1], opacity=1)
                  .encode(x=alt.value(591), y=alt.value(key_rows_y[1])))
key_layers.append(alt.Chart(key_df).transform_filter(alt.datum.label == series_names[2])
                  .mark_point(shape=asterisk, size=81, filled=False, strokeWidth=1.2,
                              color=series_colors[2], opacity=1)
                  .encode(x=alt.value(590), y=alt.value(key_rows_y[2])))

chart = alt.layer(gauss_layer, tomo_layer, grid_layer, *tick_layers, *key_layers).properties(
    width=643, height=459,
    autosize=alt.AutoSizeParams(type="none"),
    padding={"left": 117, "top": 15, "right": 27, "bottom": 67},
    background="white",
).configure_view(stroke="#000", strokeWidth=1).configure_axis(
    labelFont=FONT, titleFont=FONT, labelFontSize=18, titleFontSize=18,
    labelColor="#000", titleColor="#000", titleFontWeight="normal",
)

chart.save("out.html", embed_options={"renderer": "svg", "actions": False})
